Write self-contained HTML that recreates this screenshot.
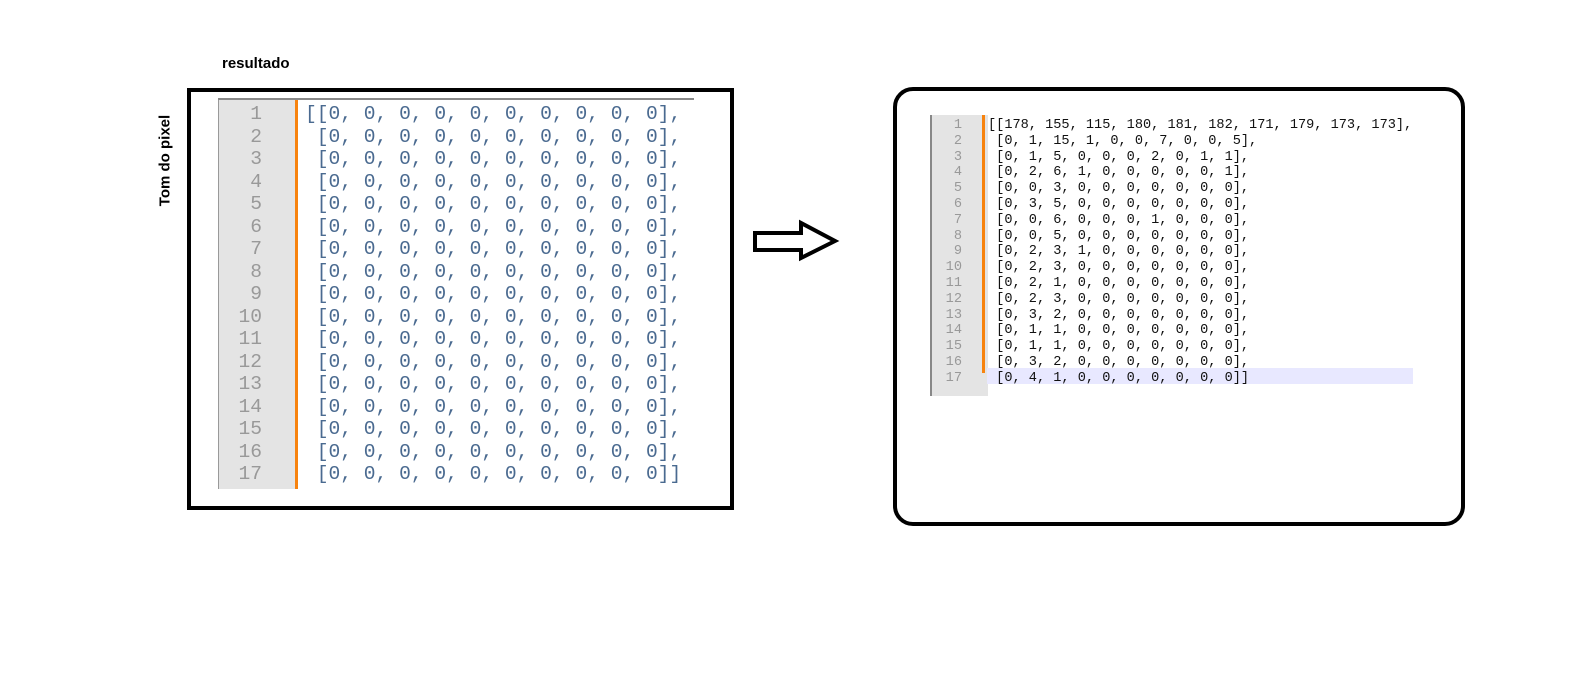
<!DOCTYPE html>
<html><head><meta charset="utf-8"><style>
body{margin:0;width:1583px;height:691px;background:#fff;position:relative;overflow:hidden;font-family:"Liberation Sans",sans-serif}
.abs{position:absolute}
.mono{font-family:"Liberation Mono",monospace;white-space:pre}
</style></head><body>
<div class="abs" style="left:222px;top:55px;font-weight:bold;font-size:15px">resultado</div>
<div class="abs" style="left:110px;top:152px;width:110px;text-align:center;transform:rotate(-90deg);font-weight:bold;font-size:15px">Tom do pixel</div>

<div class="abs" style="left:187px;top:88px;width:539px;height:414px;border:4px solid #000"></div>
<div class="abs" style="left:218px;top:98px;width:476px;height:2px;background:#888"></div>
<div class="abs" style="left:218px;top:100px;width:77px;height:389px;background:#e4e4e4;border-left:1px solid #999"></div>
<div class="abs" style="left:295px;top:100px;width:3px;height:389px;background:#f7830f"></div>
<div class="abs" id="lg"></div>
<div class="abs" id="lc"></div>

<svg class="abs" style="left:740px;top:210px" width="110" height="60">
<polygon points="15,23 61,23 61,13 95,31 61,48 61,40 15,40" fill="#fff" stroke="#000" stroke-width="4" stroke-linejoin="miter"/>
</svg>

<div class="abs" style="left:893px;top:87px;width:564px;height:431px;border:4px solid #000;border-radius:20px"></div>
<div class="abs" style="left:930px;top:115px;width:56px;height:281px;background:#e4e4e4;border-left:2px solid #888"></div>
<div class="abs" style="left:982px;top:115px;width:3px;height:258px;background:#f7830f"></div>
<div class="abs" style="left:987px;top:368px;width:426px;height:16px;background:#e8e8ff"></div>
<div class="abs" id="rg"></div>
<div class="abs" id="rc"></div>

<script>
const rightRows=[[178,155,115,180,181,182,171,179,173,173],[0,1,15,1,0,0,7,0,0,5],[0,1,5,0,0,0,2,0,1,1],[0,2,6,1,0,0,0,0,0,1],[0,0,3,0,0,0,0,0,0,0],[0,3,5,0,0,0,0,0,0,0],[0,0,6,0,0,0,1,0,0,0],[0,0,5,0,0,0,0,0,0,0],[0,2,3,1,0,0,0,0,0,0],[0,2,3,0,0,0,0,0,0,0],[0,2,1,0,0,0,0,0,0,0],[0,2,3,0,0,0,0,0,0,0],[0,3,2,0,0,0,0,0,0,0],[0,1,1,0,0,0,0,0,0,0],[0,1,1,0,0,0,0,0,0,0],[0,3,2,0,0,0,0,0,0,0],[0,4,1,0,0,0,0,0,0,0]];
const leftRows=Array.from({length:17},()=>[0,0,0,0,0,0,0,0,0,0]);
function build(rows,gId,cId,x0,gx,y0,lh,fs,col){
  const g=document.getElementById(gId),c=document.getElementById(cId);
  rows.forEach((r,i)=>{
    const n=document.createElement('div');
    
    
    n.className='abs mono';
    n.style.cssText=`left:${gx-40}px;top:${y0+i*lh}px;width:40px;text-align:right;font-size:${fs}px;color:#999;line-height:${lh}px`;
    n.textContent=i+1;g.appendChild(n);
    const l=document.createElement('div');
    
    
    l.className='abs mono';
    l.style.cssText=`left:${x0}px;top:${y0+i*lh}px;font-size:${fs}px;line-height:${lh}px;color:${col}`;
    l.textContent=(i==0?'[[':' [')+r.join(', ')+(i==rows.length-1?']]':'],');
    c.appendChild(l);
  });
}
build(leftRows,'lg','lc',305,262,103,22.5,19.6,'#4a6a90');
build(rightRows,'rg','rc',988,962,118,15.8,13.6,'#111');
</script>
</body></html>
